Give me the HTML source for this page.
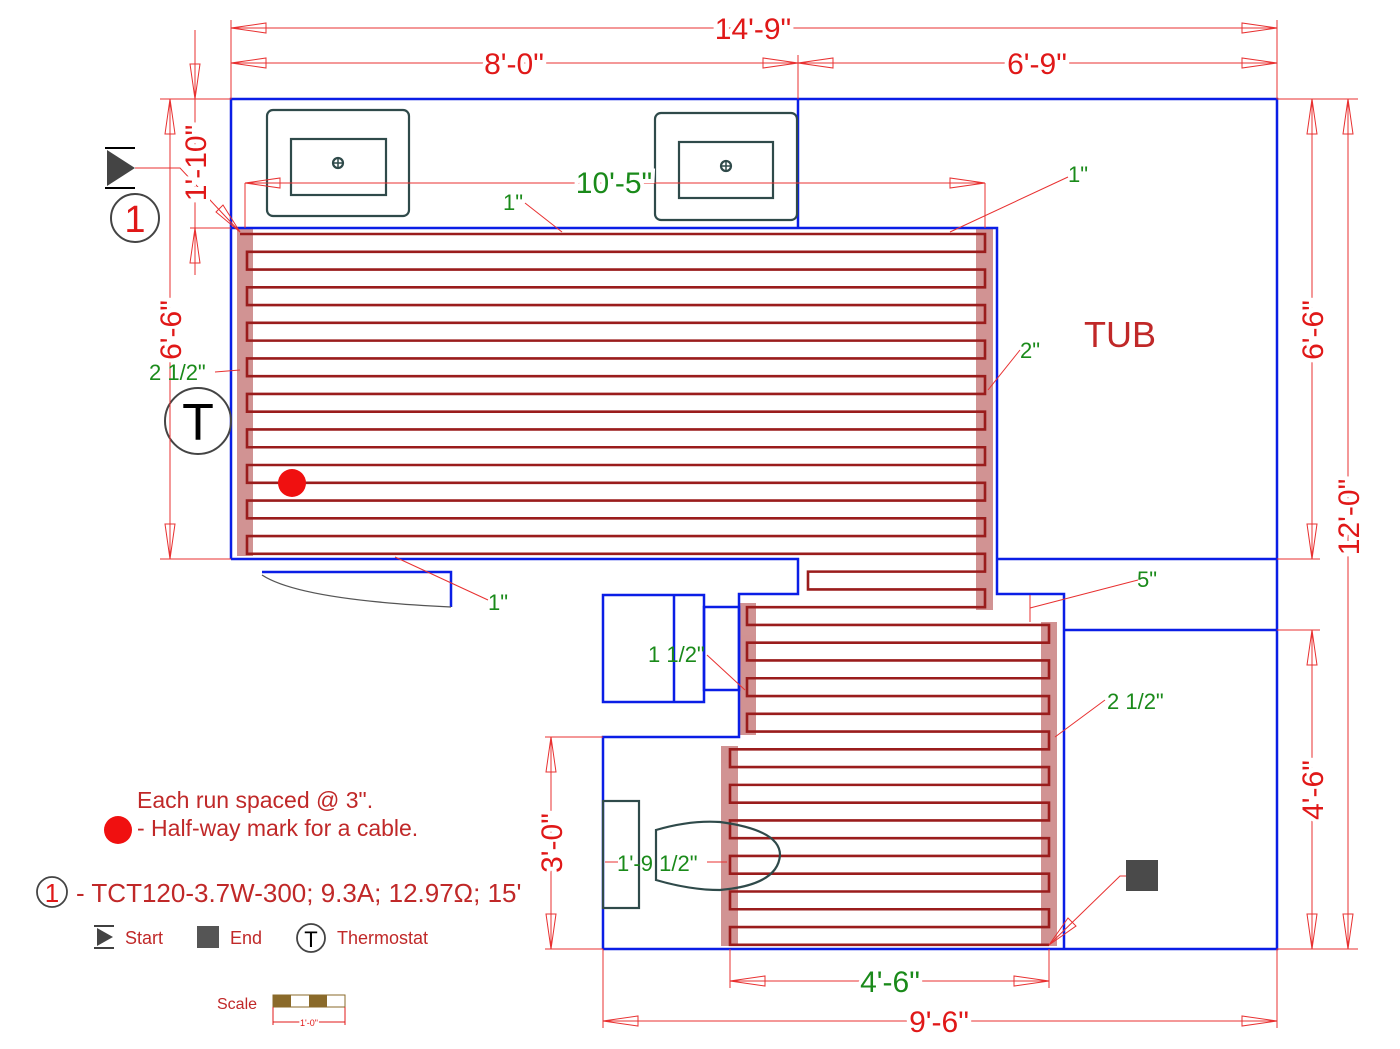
<!DOCTYPE html>
<html><head><meta charset="utf-8"><style>
html,body{margin:0;padding:0;background:#fff;width:1400px;height:1049px;overflow:hidden}
svg{display:block}
text{font-family:"Liberation Sans","DejaVu Sans",sans-serif}
</style></head><body>
<svg width="1400" height="1049" viewBox="0 0 1400 1049" xmlns="http://www.w3.org/2000/svg">
<g fill="#c98080" opacity="0.85">
<rect x="237" y="229" width="16" height="327"/>
<rect x="976" y="229" width="17" height="381"/>
<rect x="740" y="603" width="16" height="132"/>
<rect x="721" y="746" width="17" height="200"/>
<rect x="1041" y="622" width="16" height="324"/>
</g>
<path fill="none" stroke="#9a1c1c" stroke-width="2.6" d="M240,234 H985
v17.77 H247 v17.77 H985 v17.77 H247 v17.77 H985 v17.77 H247 v17.77 H985
v17.77 H247 v17.77 H985 v17.77 H247 v17.77 H985 v17.77 H247 v17.77 H985
v17.77 H247 v17.77 H985 v17.77 H247 v17.77 H985 v17.77 H247 v17.77 H985
v17.77 H808 v17.77 H985 v17.77 H747
v17.77 H1049 v17.77 H747 v17.77 H1049 v17.77 H747 v17.77 H1049 v17.77 H747
v17.77 H1049 v17.77 H730 v17.77 H1049 v17.77 H730 v17.77 H1049 v17.77 H730
v17.77 H1049 v17.77 H730 v17.77 H1049 v17.77 H730 v17.77 H1049 v17.77 H730 v17.77 H1049"/>
<g fill="none" stroke="#0a1ee6" stroke-width="2.5">
<polyline points="231,559 231,99 1277,99 1277,949 603,949"/>
<polyline points="231,559 798,559 798,594 739,594 739,737 603,737 603,949"/>
<polyline points="798,99 798,228"/>
<polyline points="231,228 997,228 997,594 1064,594 1064,949"/>
<polyline points="997,559 1277,559"/>
<polyline points="1064,630 1277,630"/>
<rect x="603" y="595" width="101" height="107"/>
<line x1="674" y1="595" x2="674" y2="702"/>
<rect x="704" y="607" width="35" height="83"/>
<polyline points="262,572 451,572 451,607"/>
</g>
<path d="M262,575 Q300,600 451,607" fill="none" stroke="#555" stroke-width="1.3"/>
<g fill="none" stroke="#2f4a4a" stroke-width="2.2">
<rect x="267" y="110" width="142" height="106" rx="6"/>
<rect x="291" y="139" width="95" height="56"/>
<circle cx="338" cy="163" r="5"/>
<rect x="655" y="113" width="142" height="107" rx="6"/>
<rect x="679" y="142" width="94" height="56"/>
<circle cx="726" cy="166" r="5"/>
<rect x="603" y="801" width="36" height="107"/>
<path d="M656,830 Q690,820 720,822 Q780,830 780,855 Q778,885 720,890 Q690,890 656,880 Z"/>
</g>
<path d="M333,163h10M338,158v10M721,166h10M726,161v10" stroke="#2f4a4a" stroke-width="1.5"/>
<rect x="1126" y="860" width="32" height="31" fill="#4a4a4a"/>
<circle cx="292" cy="483" r="14" fill="#f01010"/>
<circle cx="198" cy="421" r="33" fill="none" stroke="#444" stroke-width="2"/>
<text x="198" y="440" font-size="52" text-anchor="middle" fill="#000">T</text>
<polygon points="107,150 135,168 107,186" fill="#444"/>
<line x1="105" y1="148" x2="135" y2="148" stroke="#000" stroke-width="2"/>
<line x1="105" y1="188" x2="135" y2="188" stroke="#000" stroke-width="2"/>
<circle cx="135" cy="218" r="24" fill="none" stroke="#444" stroke-width="2"/>
<text x="135" y="232" font-size="38" text-anchor="middle" fill="#e01818">1</text>
<g stroke="#e83030" stroke-width="1" fill="none">
<line x1="231" y1="28" x2="1277" y2="28"/>
<line x1="231" y1="63" x2="1277" y2="63"/>
<line x1="231" y1="20" x2="231" y2="99"/>
<line x1="1277" y1="20" x2="1277" y2="99"/>
<line x1="798" y1="55" x2="798" y2="99"/>
<polygon points="231,28 266,23 266,33"/><polygon points="1277,28 1242,23 1242,33"/>
<polygon points="231,63 266,58 266,68"/><polygon points="798,63 763,58 763,68"/>
<polygon points="798,63 833,58 833,68"/><polygon points="1277,63 1242,58 1242,68"/>
<line x1="160" y1="99" x2="231" y2="99"/>
<line x1="160" y1="559" x2="231" y2="559"/>
<line x1="190" y1="228" x2="231" y2="228"/>
<line x1="170" y1="99" x2="170" y2="559"/>
<polygon points="170,99 165,134 175,134"/><polygon points="170,559 165,524 175,524"/>
<line x1="195" y1="30" x2="195" y2="275"/>
<polygon points="195,99 190,64 200,64"/><polygon points="195,228 190,263 200,263"/>
<line x1="1277" y1="99" x2="1358" y2="99"/>
<line x1="1277" y1="559" x2="1320" y2="559"/>
<line x1="1277" y1="630" x2="1320" y2="630"/>
<line x1="1277" y1="949" x2="1358" y2="949"/>
<line x1="1312" y1="99" x2="1312" y2="559"/>
<polygon points="1312,99 1307,134 1317,134"/><polygon points="1312,559 1307,524 1317,524"/>
<line x1="1348" y1="99" x2="1348" y2="949"/>
<polygon points="1348,99 1343,134 1353,134"/><polygon points="1348,949 1343,914 1353,914"/>
<line x1="1312" y1="630" x2="1312" y2="949"/>
<polygon points="1312,630 1307,665 1317,665"/><polygon points="1312,949 1307,914 1317,914"/>
<line x1="545" y1="737" x2="603" y2="737"/>
<line x1="545" y1="949" x2="603" y2="949"/>
<line x1="551" y1="737" x2="551" y2="949"/>
<polygon points="551,737 546,772 556,772"/><polygon points="551,949 546,914 556,914"/>
<line x1="603" y1="949" x2="603" y2="1028"/>
<line x1="1277" y1="949" x2="1277" y2="1028"/>
<line x1="603" y1="1021" x2="1277" y2="1021"/>
<polygon points="603,1021 638,1016 638,1026"/><polygon points="1277,1021 1242,1016 1242,1026"/>
<line x1="730" y1="949" x2="730" y2="988"/>
<line x1="1049" y1="949" x2="1049" y2="988"/>
<line x1="730" y1="981" x2="1049" y2="981"/>
<polygon points="730,981 765,976 765,986"/><polygon points="1049,981 1014,976 1014,986"/>
<line x1="245" y1="183" x2="985" y2="183"/>
<line x1="245" y1="183" x2="245" y2="228"/>
<line x1="985" y1="183" x2="985" y2="228"/>
<polygon points="245,183 280,178 280,188"/><polygon points="985,183 950,178 950,188"/>
<polyline points="135,168 180,168 240,232"/>
<polygon points="240,232 216,212 223,205"/>
<line x1="525" y1="203" x2="562" y2="232"/>
<line x1="1068" y1="177" x2="950" y2="232"/>
<line x1="1020" y1="350" x2="988" y2="390"/>
<line x1="215" y1="372" x2="240" y2="370"/>
<line x1="395" y1="557" x2="488" y2="600"/>
<line x1="1138" y1="580" x2="1030" y2="608"/>
<line x1="1030" y1="595" x2="1030" y2="622"/>
<line x1="707" y1="655" x2="745" y2="690"/>
<line x1="1105" y1="700" x2="1055" y2="737"/>
<line x1="605" y1="862" x2="618" y2="862"/>
<line x1="707" y1="862" x2="727" y2="862"/>
<polyline points="1049,945 1120,876 1126,876"/>
<polygon points="1049,945 1068,918 1076,926"/>
</g>
<g fill="#e01818" font-size="30">
<text x="753" y="39" text-anchor="middle" style="paint-order:stroke" stroke="#fff" stroke-width="8">14'-9"</text>
<text x="514" y="74" text-anchor="middle" stroke="#fff" stroke-width="8" style="paint-order:stroke">8'-0"</text>
<text x="1037" y="74" text-anchor="middle" stroke="#fff" stroke-width="8" style="paint-order:stroke">6'-9"</text>
<text x="939" y="1032" text-anchor="middle" stroke="#fff" stroke-width="8" style="paint-order:stroke">9'-6"</text>
<text transform="translate(206,163) rotate(-90)" text-anchor="middle" stroke="#fff" stroke-width="8" style="paint-order:stroke">1'-10"</text>
<text transform="translate(181,330) rotate(-90)" text-anchor="middle" stroke="#fff" stroke-width="8" style="paint-order:stroke">6'-6"</text>
<text transform="translate(1323,330) rotate(-90)" text-anchor="middle" stroke="#fff" stroke-width="8" style="paint-order:stroke">6'-6"</text>
<text transform="translate(1359,517) rotate(-90)" text-anchor="middle" stroke="#fff" stroke-width="8" style="paint-order:stroke">12'-0"</text>
<text transform="translate(1323,790) rotate(-90)" text-anchor="middle" stroke="#fff" stroke-width="8" style="paint-order:stroke">4'-6"</text>
<text transform="translate(562,843) rotate(-90)" text-anchor="middle" stroke="#fff" stroke-width="8" style="paint-order:stroke">3'-0"</text>
<text x="1120" y="347" font-size="36" text-anchor="middle" fill="#c02828">TUB</text>
</g>
<g fill="#1a8a1a" font-size="22">
<text x="614" y="193" font-size="30" text-anchor="middle" stroke="#fff" stroke-width="8" style="paint-order:stroke">10'-5"</text>
<text x="890" y="992" font-size="30" text-anchor="middle" stroke="#fff" stroke-width="8" style="paint-order:stroke">4'-6"</text>
<text x="503" y="210">1"</text>
<text x="1068" y="182">1"</text>
<text x="1020" y="358">2"</text>
<text x="149" y="380">2 1/2"</text>
<text x="488" y="610">1"</text>
<text x="1137" y="587">5"</text>
<text x="648" y="662">1 1/2"</text>
<text x="1107" y="709">2 1/2"</text>
<text x="617" y="871">1'-9 1/2"</text>
</g>
<g fill="#c02828">
<text x="137" y="808" font-size="23">Each run spaced @ 3".</text>
<circle cx="118" cy="830" r="14" fill="#f01010"/>
<text x="137" y="836" font-size="23">- Half-way mark for a cable.</text>
<circle cx="52" cy="892" r="15" fill="none" stroke="#444" stroke-width="1.8"/>
<text x="52" y="902" font-size="26" text-anchor="middle" fill="#e01818">1</text>
<text x="76" y="902" font-size="26">- TCT120-3.7W-300; 9.3A; 12.97Ω; 15'</text>
<polygon points="97,928 113,937 97,946" fill="#444"/>
<line x1="94" y1="926" x2="114" y2="926" stroke="#000" stroke-width="1.5"/>
<line x1="94" y1="948" x2="114" y2="948" stroke="#000" stroke-width="1.5"/>
<text x="125" y="944" font-size="18">Start</text>
<rect x="197" y="926" width="22" height="22" fill="#555"/>
<text x="230" y="944" font-size="18">End</text>
<circle cx="311" cy="938" r="14" fill="none" stroke="#444" stroke-width="1.8"/>
<text x="311" y="947" font-size="22" text-anchor="middle" fill="#000">T</text>
<text x="337" y="944" font-size="18">Thermostat</text>
<text x="217" y="1009" font-size="16">Scale</text>
</g>
<rect x="273" y="995" width="72" height="12" fill="#fff" stroke="#8a6a2a"/>
<rect x="273" y="995" width="18" height="12" fill="#8a6a2a"/>
<rect x="309" y="995" width="18" height="12" fill="#8a6a2a"/>
<line x1="273" y1="1007" x2="273" y2="1025" stroke="#e01818"/>
<line x1="345" y1="1007" x2="345" y2="1025" stroke="#e01818"/>
<line x1="273" y1="1022" x2="345" y2="1022" stroke="#e01818"/>
<text x="309" y="1026" font-size="9" text-anchor="middle" fill="#e01818" stroke="#fff" stroke-width="3" style="paint-order:stroke">1'-0"</text>
</svg>
</body></html>
